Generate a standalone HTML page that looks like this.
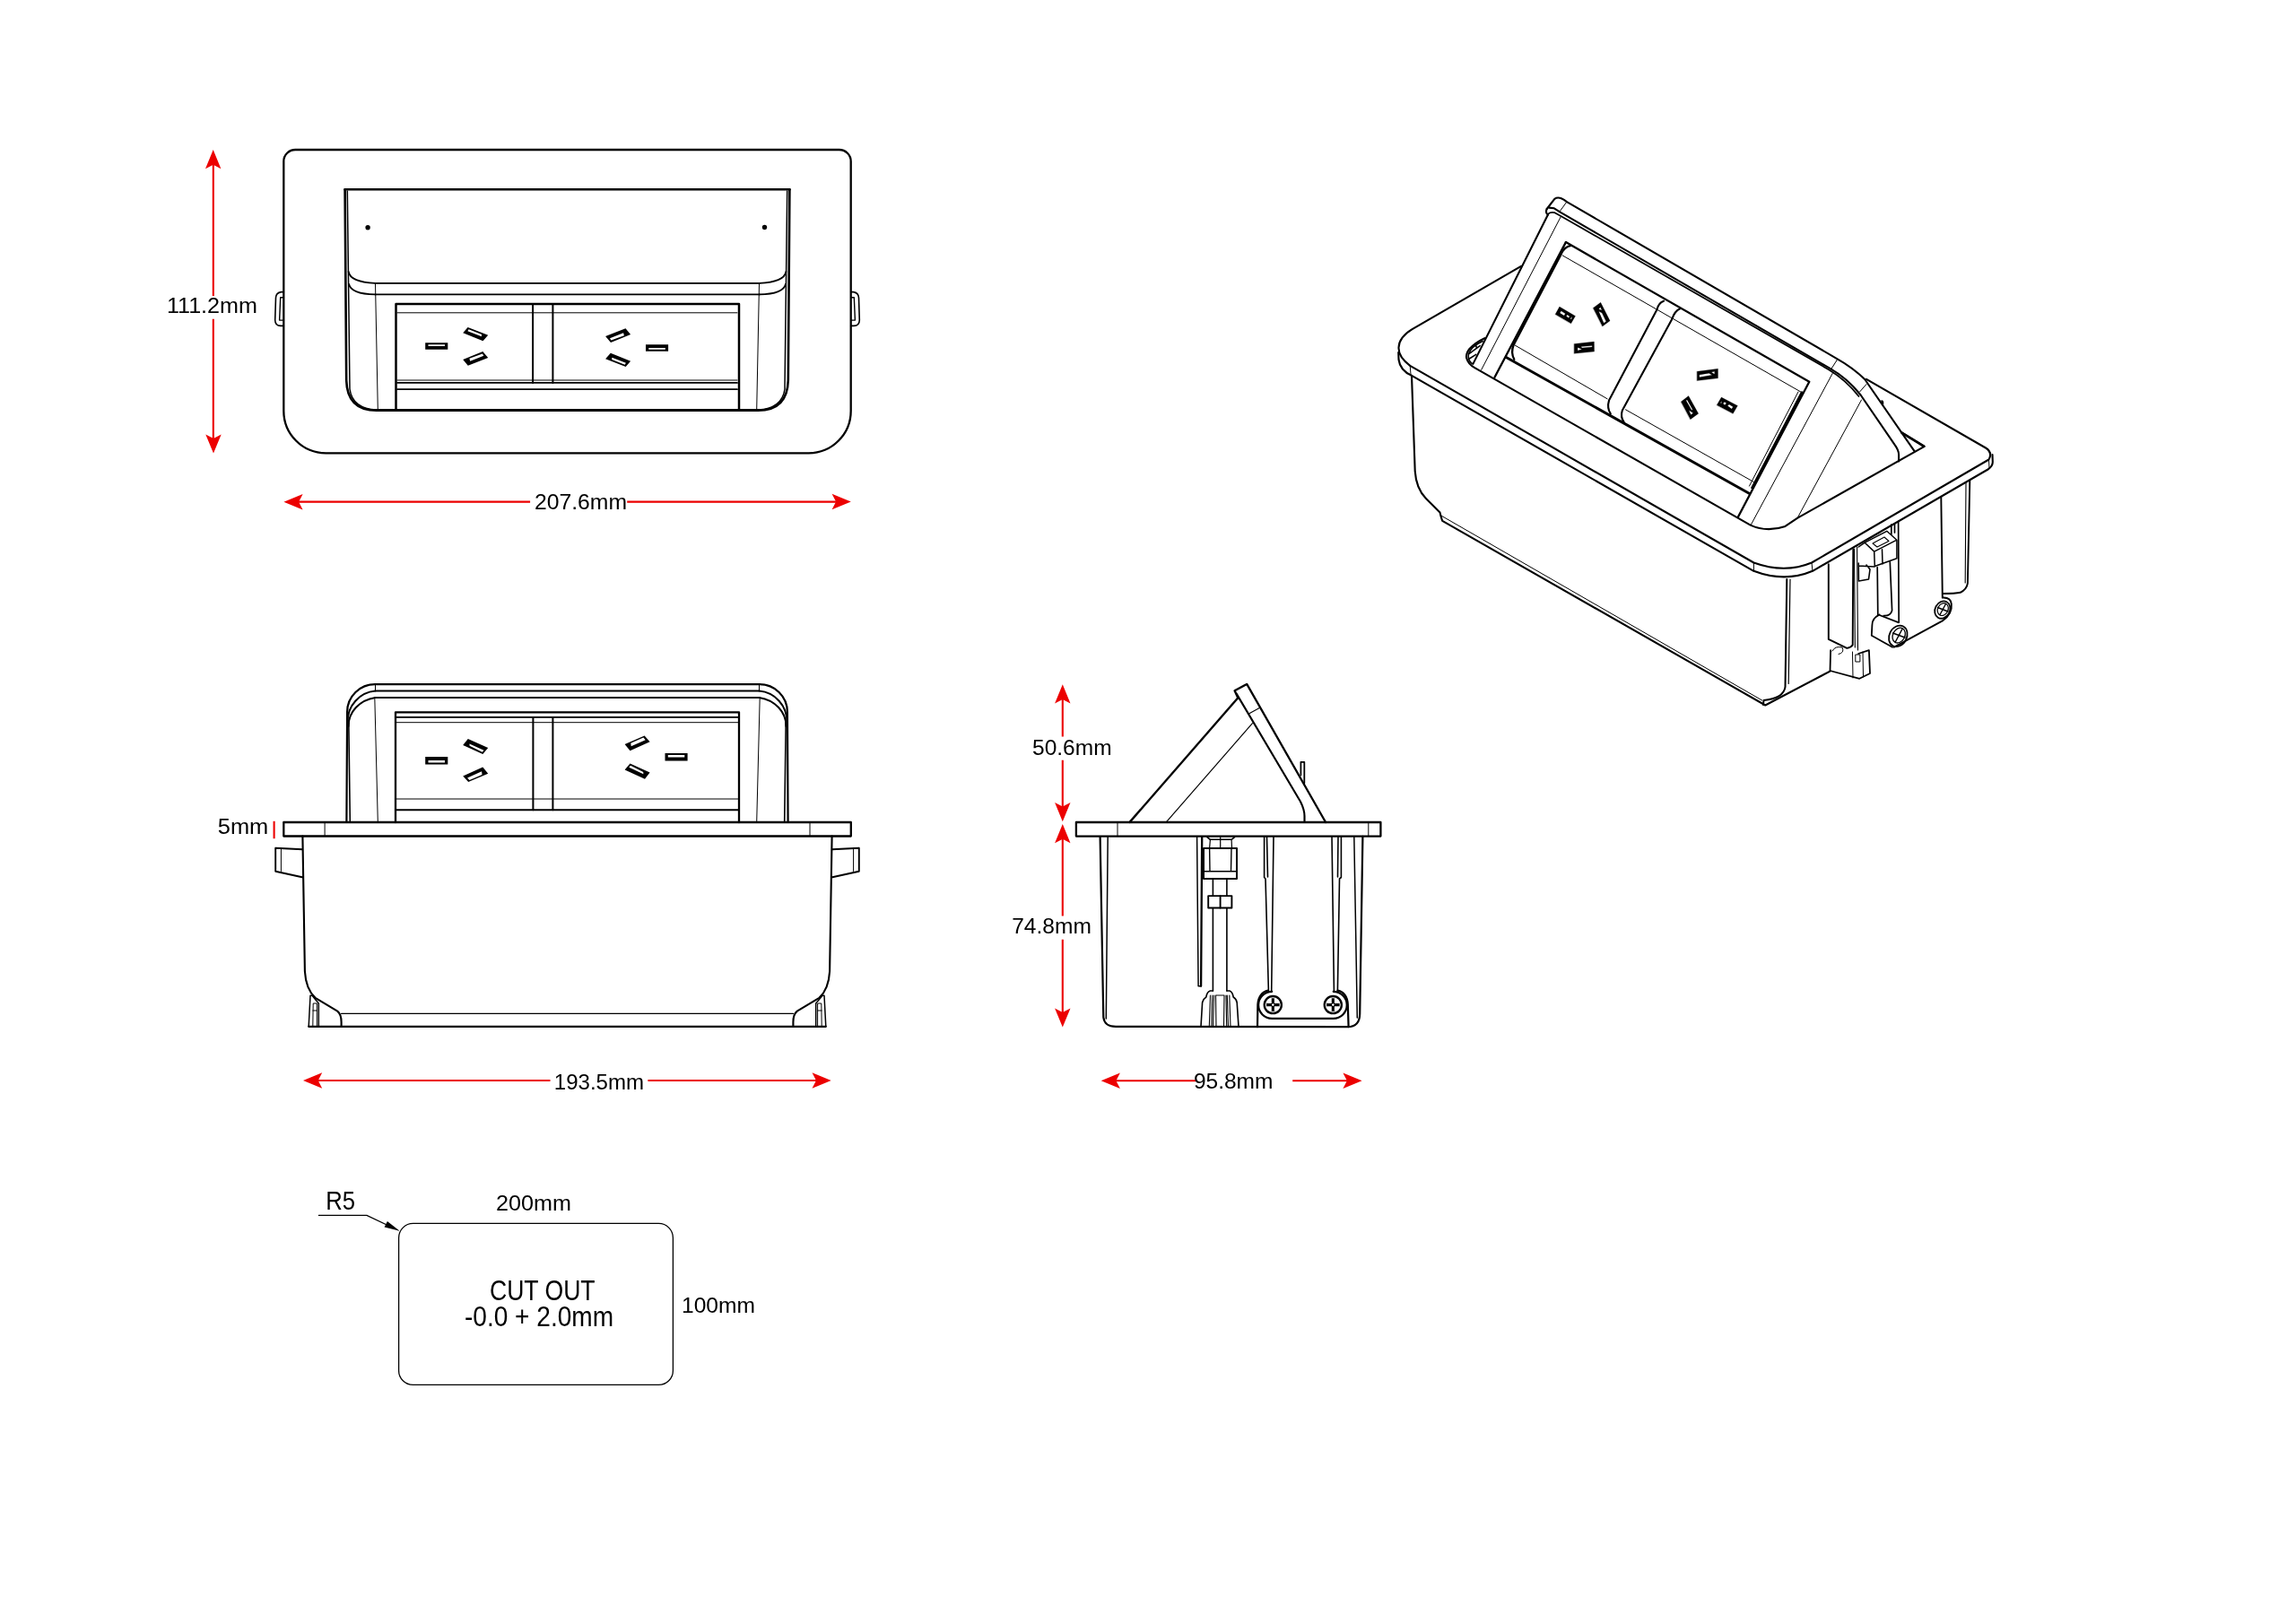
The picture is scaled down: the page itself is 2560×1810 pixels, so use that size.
<!DOCTYPE html>
<html><head><meta charset="utf-8">
<style>
html,body{margin:0;padding:0;background:#fff;}
body{width:2560px;height:1810px;overflow:hidden;}
svg{display:block;will-change:transform;}
text{font-family:"Liberation Sans",sans-serif;fill:#000;}
</style></head>
<body>
<svg width="2560" height="1810" viewBox="0 0 2560 1810">
<defs>
<path id="ah" d="M0,0 L-21.2,-8.7 L-16.7,0 L-21.2,8.7 Z" fill="#ec0000"/>
</defs>
<rect x="0" y="0" width="2560" height="1810" fill="#fff"/>
<g fill="none" stroke="#000" stroke-linejoin="round" stroke-linecap="round">

<!-- ============ TOP VIEW ============ -->
<g id="topview">
<path stroke-width="2.3" d="M316.3,180 L316.3,458.3 A47,47 0 0 0 363.3,505.3 L901.7,505.3 A47,47 0 0 0 948.7,458.3 L948.7,180 A13,13 0 0 0 935.7,167 L329.3,167 A13,13 0 0 0 316.3,180 Z"/>
<g id="tv-half">
<!-- clip -->
<path stroke-width="1.6" d="M316.3,325.6 L313.5,325.6 Q307.8,326.5 307.5,332 L306.7,357 Q306.8,363.4 313,363.4 L316.3,363.4"/>
<path stroke-width="1.4" d="M316.3,331.7 L312.7,331.7 L311.6,357.1 L316.3,357.1"/>
<!-- lid left -->
<path stroke-width="2.6" d="M384.6,211.3 L386.2,424 Q387,457.8 420,457.8"/>
<path stroke-width="1.5" d="M387.3,213 L390,434 Q393,455.5 420,457"/>
<path stroke-width="1.8" d="M388.6,303 Q390.5,314.5 418.5,315.9"/>
<path stroke-width="1.8" d="M389,316.8 Q391.5,328 418.5,328.4"/>
<path stroke-width="1" d="M418.5,315.9 L421.3,457"/>
</g>
<use href="#tv-half" transform="translate(1265,0) scale(-1,1)"/>
<circle cx="410.1" cy="253.8" r="2.7" fill="#000" stroke="none"/>
<circle cx="852.5" cy="253.5" r="2.7" fill="#000" stroke="none"/>
<path stroke-width="2.6" d="M384.6,211.3 L880.4,211.3"/>
<path stroke-width="1.6" d="M418.5,315.9 L847,315.9"/>
<path stroke-width="1.8" d="M418.5,328.4 L847,328.4"/>
<path stroke-width="3" d="M420,457.5 L845,457.5"/>
<!-- socket frame -->
<path stroke-width="2.5" d="M441.5,457 L441.5,338.9 L824,338.9 L824,457"/>
<path stroke-width="1" d="M443,348.8 L822,348.8"/>
<path stroke-width="1" d="M443,424 L822,424"/>
<path stroke-width="1.8" d="M443,426.9 L822,426.9"/>
<path stroke-width="1.8" d="M443,434.2 L822,434.2"/>
<path stroke-width="2" d="M594.1,339 L594.1,426.9 M616.4,339 L616.4,426.9"/>

<g id="sockTV">
<path fill="#000" stroke="none" fill-rule="evenodd" d="M474.2,382.3 L499.3,382.3 L499.3,389.8 L474.2,389.8 Z M477.5,384.3 L496.0,384.3 L496.0,386.0 L477.5,386.0 Z"/>
<path fill="#000" stroke="none" fill-rule="evenodd" d="M516.2,371.3 L521.6,364.9 L544.2,373.7 L538.5,380.3 Z M521.4,369.2 L522.6,367.2 L537.1,373.1 L536.9,375.2 Z"/>
<path fill="#000" stroke="none" fill-rule="evenodd" d="M516.2,401.1 L538.3,392.1 L544.2,399.0 L521.8,407.8 Z M523.4,399.7 L537.9,394.5 L539.3,396.8 L524.2,402.7 Z"/>
</g>
<use href="#sockTV" transform="rotate(180 609.65 387)"/>
</g>

<!-- ============ FRONT VIEW ============ -->
<g id="frontview">
<path stroke-width="2.3" d="M316.3,917 L948.8,917 L948.8,932.5 L316.3,932.5 Z"/>
<path stroke-width="1" d="M362.1,917.5 L362.1,932 M903,917.5 L903,932"/>
<g id="fv-half">
<path stroke-width="2.2" d="M386.4,916.5 L387.1,794 A31,31 0 0 1 418.5,763.2"/>
<path stroke-width="2" d="M387.6,805 A34,34 0 0 1 418.5,770.6"/>
<path stroke-width="2" d="M388.5,810 A36,32.1 0 0 1 418.5,777.9"/>
<path stroke-width="1.6" d="M388.8,806 L390.3,916.5"/>
<path stroke-width="1" d="M418.5,763.2 L418.5,770.6"/>
<path stroke-width="1" d="M417.8,777.9 L421.3,916.5"/>
<!-- body -->
<path stroke-width="2.1" d="M337.4,932.6 L339.9,1083.2 Q341,1103 351.6,1112.8 L376.2,1127.6 Q380.6,1131 380.6,1140 L380.6,1144.8"/>
<path stroke-width="1.9" d="M337.2,947.2 L307.2,945.8 L307.2,971.7 L338,978.5"/>
<path stroke-width="1" d="M313.4,946.2 L313.4,971.5"/>
<path stroke-width="1.5" d="M344.2,1144.8 L346,1110.3 L348,1110.3 L355.3,1119 L355.3,1144.8"/>
<path stroke-width="1" d="M348.8,1144.8 L349.2,1119 L353.4,1119 L353.4,1144.8 M348.9,1127 L353.4,1127"/>
</g>
<use href="#fv-half" transform="translate(1265,0) scale(-1,1)"/>
<path stroke-width="2.2" d="M418.5,763.2 L846.5,763.2"/>
<path stroke-width="2" d="M418.5,770.6 L846.5,770.6"/>
<path stroke-width="2" d="M418.5,777.9 L846.5,777.9"/>
<path stroke-width="2.3" d="M441,917 L441,794.3 L824,794.3 L824,917"/>
<path stroke-width="1.9" d="M442,799.9 L823,799.9"/>
<path stroke-width="1" d="M442,805.7 L823,805.7"/>
<path stroke-width="1" d="M442,891 L823,891"/>
<path stroke-width="2" d="M442,903.3 L823,903.3"/>
<path stroke-width="2" d="M594.4,800 L594.4,903.3 M616.4,800 L616.4,903.3"/>
<path stroke-width="2.2" d="M344.2,1144.8 L920.8,1144.8"/>
<path stroke-width="1.3" d="M380.6,1130.4 L884.4,1130.4"/>
<g id="sockFV">
<path fill="#000" stroke="none" fill-rule="evenodd" d="M474.2,844.1 L499.3,844.1 L499.3,852.5 L474.2,852.5 Z M477.5,848.0 L496.0,848.0 L496.0,850.5 L477.5,850.5 Z"/>
<path fill="#000" stroke="none" fill-rule="evenodd" d="M516.2,831.1 L521.8,823.9 L544.2,834.1 L538.3,841.1 Z M523.4,829.4 L539.5,836.8 L537.7,838.8 L523.6,831.7 Z"/>
<path fill="#000" stroke="none" fill-rule="evenodd" d="M516.2,865.4 L538.3,855.4 L544.2,862.7 L522.2,872.1 Z M521.1,867.4 L537.1,860.3 L537.5,863.9 L523.4,870.1 Z"/>
</g>
<use href="#sockFV" transform="rotate(180 620.4 846.3)"/>
</g>

<!-- ============ SIDE VIEW ============ -->
<g id="sideview">
<path stroke-width="2.3" d="M1199.9,917 L1539.4,917 L1539.4,932.6 L1199.9,932.6 Z"/>
<path stroke-width="1" d="M1246,917.5 L1246,932 M1525.8,917.5 L1525.8,932"/>
<path stroke-width="2.4" d="M1259.6,916.9 L1380.3,778.3"/>
<path stroke-width="1.2" d="M1300.3,916.9 L1396.4,806.7"/>
<path stroke-width="2.3" d="M1380.3,778.3 L1376.6,770.3 L1390.2,762.9 L1478.1,917"/>
<path stroke-width="2.1" d="M1378.5,773.4 L1450,894 Q1454.5,903 1454.5,910 L1454.5,917"/>
<path stroke-width="1.1" d="M1393.3,795.6 L1403.8,789.7"/>
<path stroke-width="1.8" d="M1450.4,864.5 L1450.4,849.8 L1454.3,849.8 L1454.3,873.5"/>
<!-- body -->
<path stroke-width="2.2" d="M1226.6,933.3 L1230.3,1134.5 Q1231.5,1145 1244.4,1144.9 L1502.6,1145.2 Q1516,1145 1516.2,1130.7 L1519.4,932.8"/>
<path stroke-width="1.5" d="M1235.2,933.3 L1233.3,1136"/>
<path stroke-width="1.5" d="M1509.8,932.8 L1513.3,1135"/>
<path stroke-width="1.5" d="M1334.6,933.3 L1336.1,1099.7 L1339.1,1099.7"/>
<path stroke-width="2.3" d="M1339.1,1099.7 L1340.2,933.3"/>
<!-- gland -->
<path stroke-width="1.6" d="M1345.7,933.3 L1349.4,936.3 L1373.1,936.3 L1376.8,933.3"/>
<path stroke-width="1.2" d="M1349.4,936.3 L1348.6,946 M1373.1,936.3 L1373.5,946 M1360.7,933.3 L1360.7,946"/>
<path stroke-width="2" d="M1342,945.9 L1379,945.9 L1379,979.9 L1342,979.9 Z"/>
<path stroke-width="1.4" d="M1342,971.8 L1379,971.8 M1348.6,946 L1349,971.8 M1373,946 L1372.5,971.8"/>
<path stroke-width="1.6" d="M1352.4,979.9 L1352.4,1104.9 M1367.9,979.9 L1367.9,1104.9"/>
<path stroke-width="1.9" fill="#fff" d="M1347.2,999.1 L1373.4,999.1 L1373.4,1012.5 L1347.2,1012.5 Z"/>
<path stroke-width="1.9" d="M1360.6,999.1 L1360.6,1012.5"/>
<path stroke-width="1.6" d="M1339,1144.9 L1340.6,1118 Q1341.5,1114 1344.8,1112 Q1345.8,1106 1349.3,1105 L1352.4,1105 M1367.9,1105 L1371,1105 Q1374.2,1106 1375.2,1112 Q1378.5,1114 1379.2,1118 L1381,1144.9"/>
<path stroke-width="1.1" d="M1348.3,1144.9 L1349.5,1110 M1350.8,1144.9 L1351.7,1110 M1352.5,1144.9 L1353.6,1110 M1356,1144.9 L1355.5,1110 L1365,1110 L1364.5,1144.9 M1367.7,1144.9 L1367,1110 M1369.5,1144.9 L1368.3,1110 M1372,1144.9 L1370.8,1110"/>
<!-- right side rods and bracket -->
<path stroke-width="1.6" d="M1409.6,932.8 L1409.6,978.5 L1411,980 L1414.4,1105.1 M1420,932.8 L1417.7,1105.1 M1412.5,932.8 L1413.5,978"/>
<path stroke-width="1.6" d="M1485,932.8 L1487.4,1105.1 M1495.4,932.8 L1495.4,978.5 L1493.5,980 L1491.4,1105.1 M1492,932.8 L1491.5,978"/>
<path stroke-width="2.2" d="M1402,1145.2 L1402.4,1120 Q1403.5,1107 1414,1104.5 M1491.5,1104.5 Q1502,1107 1502.8,1120 L1503.6,1145.2"/>
<path stroke-width="2.2" d="M1418.2,1105.8 A15,15 0 0 0 1418.2,1135.9 L1486.7,1135.9 A15,15 0 0 0 1486.7,1105.8"/>
<circle stroke-width="2.3" cx="1419.3" cy="1120.6" r="9.6"/>
<circle stroke-width="2.3" cx="1486.3" cy="1120.6" r="9.6"/>
<path stroke-width="3.1" stroke-linecap="butt" d="M1419.3,1113.3 L1419.3,1127.9 M1412,1120.6 L1426.6,1120.6 M1486.3,1113.3 L1486.3,1127.9 M1479,1120.6 L1493.6,1120.6"/>
<path fill="#fff" stroke="none" d="M1419.3,1119 L1420.9,1120.6 L1419.3,1122.2 L1417.7,1120.6 Z M1486.3,1119 L1487.9,1120.6 L1486.3,1122.2 L1484.7,1120.6 Z"/>
</g>


<!-- ============ ISOMETRIC VIEW ============ -->
<g id="iso">
<!-- lid end cap & top rail -->
<path stroke-width="2.1" d="M1724.7,233 L1733.3,221.8 Q1736.5,219.6 1740.8,221.2 Q1744,222.6 1747,225.1 L2047.8,399.8 Q2066,410 2079.2,423 L2134.7,503.3"/>
<path stroke-width="2.1" d="M1724.7,233 Q1722.8,237 1725.9,239.5"/>
<path stroke-width="2.1" d="M1727.2,231.6 L1732.9,232.3 L1739.2,236.4 L2040.4,410.9 Q2060,422 2074.6,440.5 L2112.5,495.9 Q2117,502 2117.1,507 L2117.1,514.4"/>
<path stroke-width="1.8" d="M1726.3,238.6 Q1728.5,236.2 1733.5,237.2 L1740.8,241.2 L2039,412.2 Q2058,423.5 2072.5,442"/>
<path fill="#000" stroke="none" d="M2097.2,446.5 Q2099.5,445.5 2100.2,448 L2100.3,451.5 L2097.5,449.5 Z"/>
<path stroke-width="2.8" d="M2120.5,482.6 L2145,497.6"/>
<path stroke-width="1" d="M1746.3,225.9 L1738.4,236.8 M2042.2,410.9 L2048.7,400.7 M2073.7,436.8 L2081,428.5"/>
<!-- lid left rail -->
<path stroke-width="2.1" d="M1725.9,239.5 L1642.4,405.9"/>
<path stroke-width="1" d="M1740.4,241.4 L1651.7,412.4"/>
<path stroke-width="2.3" d="M1745.9,270.1 L1666.5,420.7"/>
<!-- socket frame -->
<path stroke-width="2.3" d="M1745.9,270.1 L2017.3,425.7 L1937.8,576.7"/>
<path stroke-width="1" d="M1742.2,284.9 L2009,437.7"/>
<path stroke-width="2.3" d="M1751.5,273.8 Q1744,275 1740.4,283.9 L1687.5,385 Q1684.3,393.5 1688.3,400.8"/>
<path stroke-width="2.6" d="M2009,437.7 L1953.5,544"/>
<path stroke-width="1" d="M2005,437 L1950.5,542"/>
<path stroke-width="3" d="M1679.4,398.5 L1950.7,550.5"/>
<path stroke-width="1" d="M1688.6,384.7 L1792.1,444.8 M1812.5,456.8 L1955.4,537.5"/>
<path stroke-width="2.1" d="M1855,335.7 Q1849,338 1847.6,344.9 L1794,446.6 Q1791.5,455 1795.8,461.4"/>
<path stroke-width="2.1" d="M1873.5,344 Q1867,347 1864.2,356 L1808.8,457.7 Q1806.5,465 1810.6,470.6"/>
<!-- lid right side -->
<path stroke-width="1" d="M2043.2,416.5 L1952.6,584.7"/>
<path stroke-width="1" d="M2075.5,446 L2004.3,577.3"/>
<!-- flange -->
<path stroke-width="2.1" d="M2081,422.9 L2214,499.5 Q2222,504.5 2217.5,512.5 L2020,627.5 Q1990,640 1955.4,627.5 L1572.2,407.8 Q1559,398 1559.5,387.5 Q1560,376 1574.6,367.2 L1696,296.9"/>
<path stroke-width="2.1" d="M1559.2,393 L1559.5,401 Q1561,413 1574,418.9 L1955.4,636.8 Q1990,650 2021,636.8 L2216.5,523.5 Q2222,520 2221.8,515 L2221.5,507"/>
<path stroke-width="1" d="M1572.2,407.8 L1573.1,418.9 M1955.4,627.5 L1955.4,636.8 M2020,627.5 L2021,636.8 M2217.5,512.5 L2218,522"/>
<!-- cavity -->
<path stroke-width="2.1" d="M1655.3,377.2 Q1645,382 1638.5,389 Q1634,395 1635.2,399.5 Q1637,406 1644.2,410.1 L1951.7,585.6 Q1970,594 1990.5,586.9 L2004.3,577.6 L2145.7,497.8 L2119.9,482.1"/>
<path stroke-width="1.6" d="M1653.1,380.5 Q1640,386.5 1637.3,395 Q1636.5,402 1641.3,405.5 M1650.1,385.7 L1637.9,394.6 M1645.7,395.3 L1637.6,400.5 M1645.6,385 L1646.4,387.8"/>
<!-- body -->
<path stroke-width="2.1" d="M1574,418.9 L1577.7,525.4 Q1579,545 1590,556 L1605.5,571.6 Q1607,578 1608.2,580.8 L1968.3,786.5 L2040.4,748.6"/>
<path stroke-width="1" d="M1607.3,575.3 L1964.6,781"/>
<path stroke-width="2" d="M1992.3,646 L1990.5,766.2 Q1988.5,779 1966.5,781 L1966,786"/>
<path stroke-width="1.2" d="M1996,646 L1994.2,762.5"/>
<!-- connector area -->
<path stroke-width="1.9" d="M2038.8,629.2 L2038.8,712.9 L2059.3,722.9 Q2064,722 2065.7,719.3 L2066.3,612.8"/>
<path stroke-width="1.1" d="M2067.5,612 L2068.3,722 M2070.6,610 L2071.5,725"/>
<path stroke-width="1.8" d="M2041.1,725.2 L2040.5,748 L2073.3,756.8 L2085,751 L2083.9,725.2 L2072,729"/>
<path stroke-width="1" d="M2065.5,727 L2066,756 M2077,727 L2077.5,755 M2069.2,730 L2073.9,730 L2073.9,738 L2069.2,738 Z M2043,726 Q2046,720 2054,722 Q2057,728 2050,729.5"/>
<path stroke-width="1.5" d="M2079.2,605.2 L2103.8,592.3 L2114.9,602.2 L2089.7,615.1 Z M2089.7,615.1 L2090.3,631.5 L2114.9,622.7 L2114.9,602.2 M2079.2,605.2 L2072.2,610 M2098.5,612.7 L2099,629"/>
<path stroke-width="1.1" d="M2088,606 L2101,599 L2106,603.5 L2093,610 Z M2083,601 L2096,594"/>
<path stroke-width="1.6" d="M2072.2,628 L2072.4,648 L2083.5,646 L2085,635 L2081,630 M2072.2,631 L2090,632"/>
<path stroke-width="1.7" d="M2093.2,632.7 L2093.8,685.4 M2107.3,626.8 L2109.6,680.7 Q2108,687 2100.3,686.6 M2116.6,581.5 L2117.2,694.2 M2108.8,585 L2108.8,596 M2112.5,584 L2112.5,594"/>
<path stroke-width="1.8" d="M2095.6,685.4 Q2087,690 2087.4,697.1 L2086.8,708.8 L2110,721.7 M2095.6,686 L2116.6,694.2"/>
<ellipse stroke-width="1.8" cx="2116.3" cy="709.4" rx="9.7" ry="12.3" transform="rotate(28 2116.3 709.4)"/>
<ellipse stroke-width="1.3" cx="2117.2" cy="708.6" rx="6.6" ry="8.8" transform="rotate(28 2117.2 708.6)"/>
<path stroke-width="1.5" d="M2121,701.5 L2113.5,715.5 M2110.5,706 L2124,711"/>
<path stroke-width="1.9" d="M2112,721.7 L2165.8,692.4 Q2177,685 2175.8,673.7 Q2175,666 2165.8,666.6 L2164.3,554.5"/>
<ellipse stroke-width="1.8" cx="2165.8" cy="680.1" rx="8.2" ry="10" transform="rotate(28 2165.8 680.1)"/>
<ellipse stroke-width="1.2" cx="2166.3" cy="679.6" rx="5.7" ry="7.2" transform="rotate(28 2166.3 679.6)"/>
<path stroke-width="1.4" d="M2169.5,673.5 L2163,685.5 M2160.5,677.5 L2172,682"/>
<path stroke-width="1.9" d="M2165.8,662 Q2180,662 2185.7,660.8 Q2193,657 2193.9,650.3 L2196.3,536"/>
<path stroke-width="1.1" d="M2192,538.5 L2191.2,650"/>
<!-- pins -->
<path fill="#000" stroke="#000" stroke-width="0.25" fill-rule="evenodd" d="M1734.1,350.5 L1738.8,342.1 L1756.5,352.4 L1751.7,360.8 Z M1739.2,349.0 L1740.7,346.8 L1745.3,349.8 L1744.0,352.0 Z M1746.3,352.4 L1747.6,351.1 L1750.2,352.9 L1748.9,354.6 Z M1751.3,354.5 L1752.8,353.2 L1752.3,355.8 L1751.2,356.2 Z"/>
<path fill="#000" stroke="#000" stroke-width="0.25" fill-rule="evenodd" d="M1776.3,343.4 L1784.7,337.3 L1795.1,357.8 L1786.7,363.9 Z M1782.6,347.2 L1786.2,349.0 L1790.8,358.5 L1788.2,360.2 Z M1782.6,344.8 L1784.4,342.5 L1786.0,346.0 Z"/>
<path fill="#000" stroke="#000" stroke-width="0.25" fill-rule="evenodd" d="M1755.2,383.5 L1777.4,381.1 L1777.6,392.1 L1755.2,394.3 Z M1763.0,386.5 L1775.2,385.6 L1775.2,387.1 L1763.8,388.0 Z M1759.1,387.4 L1763.8,389.5 L1759.1,391.0 Z"/>
<path fill="#000" stroke="#000" stroke-width="0.25" fill-rule="evenodd" d="M1892.2,414.2 L1915.5,411.2 L1915.5,421.8 L1892.2,424.6 Z M1894.8,417.9 L1905.5,416.2 L1909.0,418.3 L1894.8,420.7 Z M1908.1,414.9 L1911.8,414.2 L1911.6,417.2 Z"/>
<path fill="#000" stroke="#000" stroke-width="0.25" fill-rule="evenodd" d="M1874.3,448.1 L1882.7,441.6 L1893.7,461.2 L1884.8,467.7 Z M1879.9,446.6 L1881.2,445.9 L1887.2,456.8 L1886.2,457.5 Z M1883.1,457.4 L1887.9,460.8 L1885.3,462.5 Z"/>
<path fill="#000" stroke="#000" stroke-width="0.25" fill-rule="evenodd" d="M1914.2,451.7 L1919.3,443.1 L1937.4,452.4 L1932.3,461.2 Z M1921.1,450.0 L1922.8,448.3 L1924.9,449.4 L1923.2,451.7 Z M1926.2,452.6 L1928.0,450.9 L1932.3,453.7 L1930.8,456.1 Z M1918.3,449.0 L1919.8,447.3 L1919.2,450.3 Z"/>
</g>

<!-- ============ CUT OUT ============ -->
<g id="cutout">
<rect stroke-width="1.3" x="444.6" y="1364.4" width="305.8" height="180" rx="16" ry="16"/>
<path stroke-width="1.2" d="M355.4,1355.4 L408.9,1355.4 L436,1368.3"/>
<path fill="#000" stroke="none" d="M445.6,1372.7 L428.6,1368.6 L431.9,1362.1 Z"/>
</g>
</g>

<!-- ============ DIMENSIONS (red) ============ -->
<g id="dims" stroke="#ec0000" stroke-width="2.1" fill="none">
<path d="M237.8,180 L237.8,330 M237.8,355.7 L237.8,495"/>
<path d="M330,559.6 L591.1,559.6 M699.2,559.6 L935,559.6"/>
<path d="M350,1205 L613.5,1205 M722.4,1205 L915,1205"/>
<path d="M305.6,915.8 L305.6,935.2"/>
<path d="M1184.8,775 L1184.8,821.6 M1184.8,847.7 L1184.8,905"/>
<path d="M1184.8,931 L1184.8,1021.6 M1184.8,1047.7 L1184.8,1134"/>
<path d="M1240,1205.3 L1333.2,1205.3 M1441.2,1205.3 L1506,1205.3"/>
</g>
<use href="#ah" transform="translate(237.7,167.1) rotate(-90)"/>
<use href="#ah" transform="translate(238,505.6) rotate(90)"/>
<use href="#ah" transform="translate(316.4,559.7) rotate(180)"/>
<use href="#ah" transform="translate(948.8,559.5)"/>
<use href="#ah" transform="translate(338,1205) rotate(180)"/>
<use href="#ah" transform="translate(926.7,1205)"/>
<use href="#ah" transform="translate(1184.8,763.3) rotate(-90)"/>
<use href="#ah" transform="translate(1184.8,916.2) rotate(90)"/>
<use href="#ah" transform="translate(1184.8,919.1) rotate(-90)"/>
<use href="#ah" transform="translate(1184.8,1145.6) rotate(90)"/>
<use href="#ah" transform="translate(1227.7,1205.3) rotate(180)"/>
<use href="#ah" transform="translate(1518.6,1205.3)"/>

<g id="texts">
<text x="185.9" y="349.0" font-size="23.50" textLength="101.1" lengthAdjust="spacingAndGlyphs">111.2mm</text>
<text x="596.0" y="568.0" font-size="23.50" textLength="103.0" lengthAdjust="spacingAndGlyphs">207.6mm</text>
<text x="617.8" y="1215.2" font-size="23.50" textLength="100.3" lengthAdjust="spacingAndGlyphs">193.5mm</text>
<text x="242.8" y="929.5" font-size="23.50" textLength="56.5" lengthAdjust="spacingAndGlyphs">5mm</text>
<text x="1151.0" y="842.3" font-size="23.50" textLength="88.6" lengthAdjust="spacingAndGlyphs">50.6mm</text>
<text x="1128.2" y="1041.3" font-size="23.50" textLength="88.7" lengthAdjust="spacingAndGlyphs">74.8mm</text>
<text x="1330.9" y="1213.5" font-size="23.50" textLength="88.5" lengthAdjust="spacingAndGlyphs">95.8mm</text>
<text x="363.2" y="1348.8" font-size="29.00" textLength="32.8" lengthAdjust="spacingAndGlyphs">R5</text>
<text x="553.0" y="1350.0" font-size="23.50" textLength="84.0" lengthAdjust="spacingAndGlyphs">200mm</text>
<text x="546.0" y="1450.4" font-size="30.50" textLength="117.6" lengthAdjust="spacingAndGlyphs">CUT OUT</text>
<text x="518.0" y="1478.6" font-size="30.50" textLength="166.0" lengthAdjust="spacingAndGlyphs">-0.0 + 2.0mm</text>
<text x="760.0" y="1464.0" font-size="23.50" textLength="82.0" lengthAdjust="spacingAndGlyphs">100mm</text>
</g>

</svg>
</body></html>
